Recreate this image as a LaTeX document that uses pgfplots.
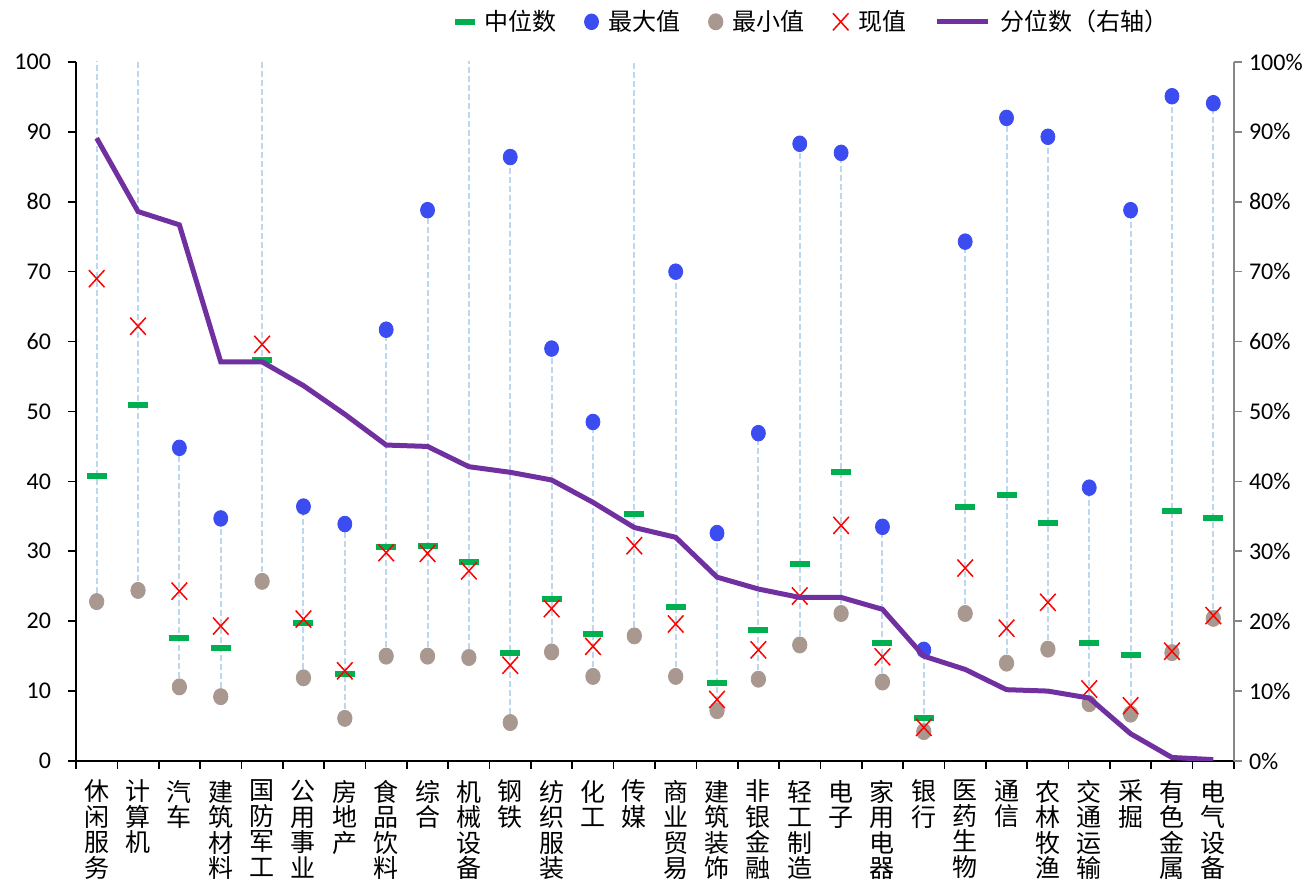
\documentclass[border=0pt]{standalone}
\usepackage{pgfplots}
\pgfplotsset{compat=1.18}
\usepackage{fontspec}
\setmainfont{Carlito}
\newfontfamily\cjk{Noto Sans CJK SC}
\definecolor{medgreen}{RGB}{0,176,80}
\definecolor{maxblue}{RGB}{59,76,240}
\definecolor{mingrey}{RGB}{168,152,144}
\definecolor{curred}{RGB}{255,0,0}
\definecolor{pctpurple}{RGB}{112,48,160}
\definecolor{dashblue}{RGB}{189,215,238}
\definecolor{rgray}{RGB}{134,134,134}
\pgfplotsset{longline legend/.style={legend image code/.code={\draw[##1] (0cm,0cm) -- (0.9cm,0cm);}}}
\begin{document}
\begin{tikzpicture}
\useasboundingbox (-38pt,-60pt) rectangle (618.5pt,380.5pt);
\begin{axis}[
  scale only axis, width=579pt, height=349.5pt,
  xmin=-0.5, xmax=27.5, ymin=0, ymax=100,
  axis y line*=left, axis x line*=bottom,
  axis line style={-, black, line width=0.8pt},
  ytick={0,10,...,100},
  xtick={0,...,27},
  xticklabels={{休\\闲\\服\\务},{计\\算\\机},{汽\\车},{建\\筑\\材\\料},{国\\防\\军\\工},{公\\用\\事\\业},{房\\地\\产},{食\\品\\饮\\料},{综\\合},{机\\械\\设\\备},{钢\\铁},{纺\\织\\服\\装},{化\\工},{传\\媒},{商\\业\\贸\\易},{建\\筑\\装\\饰},{非\\银\\金\\融},{轻\\工\\制\\造},{电\\子},{家\\用\\电\\器},{银\\行},{医\\药\\生\\物},{通\\信},{农\\林\\牧\\渔},{交\\通\\运\\输},{采\\掘},{有\\色\\金\\属},{电\\气\\设\\备}},
  major x tick style={draw=none},
  minor xtick={-0.5,0.5,...,27.5},
  minor x tick style={black, line width=0.8pt},
  ytick style={black, line width=0.8pt},
  tick align=outside,
  major tick length=4pt, minor tick length=4pt,
  xticklabel style={font=\cjk\fontsize{12.5}{12.75}\selectfont, align=center, anchor=north, yshift=-2pt},
  yticklabel style={font=\fontsize{12}{14}\selectfont, xshift=-5pt},
  /pgf/number format/assume math mode=true,
  legend columns=5,
  legend style={draw=none, fill=none, font=\cjk\fontsize{12}{14}\selectfont,
    at={(0.637,1)}, anchor=south, yshift=10pt,
    /tikz/every odd column/.append style={column sep=3pt},
    /tikz/every even column/.append style={column sep=12pt}},
  legend cell align=left,
]
% min-to-max dashed lines
\addplot[dashblue, line width=1pt, dash pattern=on 3pt off 1.5pt, unbounded coords=jump, forget plot] coordinates {
(0,22.8)(0,120)(0,nan)
(1,24.4)(1,120)(1,nan)
(2,10.6)(2,44.8)(2,nan)
(3,9.2)(3,34.7)(3,nan)
(4,25.7)(4,120)(4,nan)
(5,11.9)(5,36.4)(5,nan)
(6,6.1)(6,33.9)(6,nan)
(7,15.0)(7,61.7)(7,nan)
(8,15.0)(8,78.8)(8,nan)
(9,14.8)(9,120)(9,nan)
(10,5.5)(10,86.4)(10,nan)
(11,15.6)(11,59.0)(11,nan)
(12,12.1)(12,48.5)(12,nan)
(13,17.9)(13,120)(13,nan)
(14,12.1)(14,70.0)(14,nan)
(15,7.2)(15,32.6)(15,nan)
(16,11.7)(16,46.9)(16,nan)
(17,16.6)(17,88.3)(17,nan)
(18,21.1)(18,87.0)(18,nan)
(19,11.3)(19,33.5)(19,nan)
(20,4.2)(20,15.9)(20,nan)
(21,21.1)(21,74.3)(21,nan)
(22,14.0)(22,92.0)(22,nan)
(23,16.0)(23,89.3)(23,nan)
(24,8.2)(24,39.1)(24,nan)
(25,6.7)(25,78.8)(25,nan)
(26,15.5)(26,95.1)(26,nan)
(27,20.4)(27,94.1)(27,nan)
};
% median
\addplot[only marks, mark=-, mark size=5pt, color=medgreen, mark options={line width=3pt}] coordinates {
(0,40.7)(1,50.9)(2,17.6)(3,16.2)(4,57.3)(5,19.8)(6,12.5)(7,30.6)(8,30.8)(9,28.4)
(10,15.5)(11,23.2)(12,18.1)(13,35.4)(14,22.1)(15,11.1)(16,18.8)(17,28.2)(18,41.4)(19,16.9)
(20,6.2)(21,36.4)(22,38.1)(23,34.0)(24,16.9)(25,15.1)(26,35.7)(27,34.8)
};
\addlegendentry{中位数}
% max
\addplot[only marks, mark=*, mark size=3.5pt, color=maxblue, mark options={yscale=1.12}] coordinates {
(2,44.8)(3,34.7)(5,36.4)(6,33.9)(7,61.7)(8,78.8)
(10,86.4)(11,59.0)(12,48.5)(14,70.0)(15,32.6)(16,46.9)(17,88.3)(18,87.0)(19,33.5)
(20,15.9)(21,74.3)(22,92.0)(23,89.3)(24,39.1)(25,78.8)(26,95.1)(27,94.1)
};
\addlegendentry{最大值}
% min
\addplot[only marks, mark=*, mark size=3.6pt, color=mingrey, mark options={yscale=1.12}] coordinates {
(0,22.8)(1,24.4)(2,10.6)(3,9.2)(4,25.7)(5,11.9)(6,6.1)(7,15.0)(8,15.0)(9,14.8)
(10,5.5)(11,15.6)(12,12.1)(13,17.9)(14,12.1)(15,7.2)(16,11.7)(17,16.6)(18,21.1)(19,11.3)
(20,4.2)(21,21.1)(22,14.0)(23,16.0)(24,8.2)(25,6.7)(26,15.5)(27,20.4)
};
\addlegendentry{最小值}
% current
\addplot[only marks, mark=x, mark size=5.5pt, color=curred, mark options={line width=0.75pt, yscale=1.1}] coordinates {
(0,69.0)(1,62.2)(2,24.3)(3,19.3)(4,59.6)(5,20.3)(6,12.9)(7,29.8)(8,29.7)(9,27.2)
(10,13.7)(11,21.8)(12,16.4)(13,30.8)(14,19.6)(15,8.8)(16,15.9)(17,23.6)(18,33.7)(19,14.9)
(20,4.8)(21,27.6)(22,19.0)(23,22.7)(24,10.3)(25,7.9)(26,15.7)(27,20.8)
};
\addlegendentry{现值}
\addlegendimage{pctpurple, line width=2.5pt, longline legend}
\addlegendentry{分位数（右轴）}
\end{axis}
\begin{axis}[
  scale only axis, width=579pt, height=349.5pt,
  xmin=-0.5, xmax=27.5, ymin=0, ymax=100,
  axis y line*=right, axis x line=none,
  y axis line style={-, rgray, line width=0.8pt},
  ytick={0,10,...,100},
  ytick style={rgray, line width=0.8pt},
  tick align=outside, major tick length=4pt,
  yticklabel={\pgfmathprintnumber[assume math mode=true]{\tick}\%},
  yticklabel style={font=\fontsize{12}{14}\selectfont},
]
\addplot[pctpurple, line width=2.5pt] coordinates {
(0,89.1)(1,78.6)(2,76.7)(3,57.1)(4,57.1)(5,53.7)(6,49.6)(7,45.2)(8,45.0)(9,42.1)
(10,41.3)(11,40.2)(12,37.0)(13,33.4)(14,32.0)(15,26.3)(16,24.6)(17,23.4)(18,23.4)(19,21.7)
(20,15.0)(21,13.1)(22,10.2)(23,10.0)(24,9.0)(25,3.9)(26,0.5)(27,0.2)
};
\end{axis}
\end{tikzpicture}
\end{document}
